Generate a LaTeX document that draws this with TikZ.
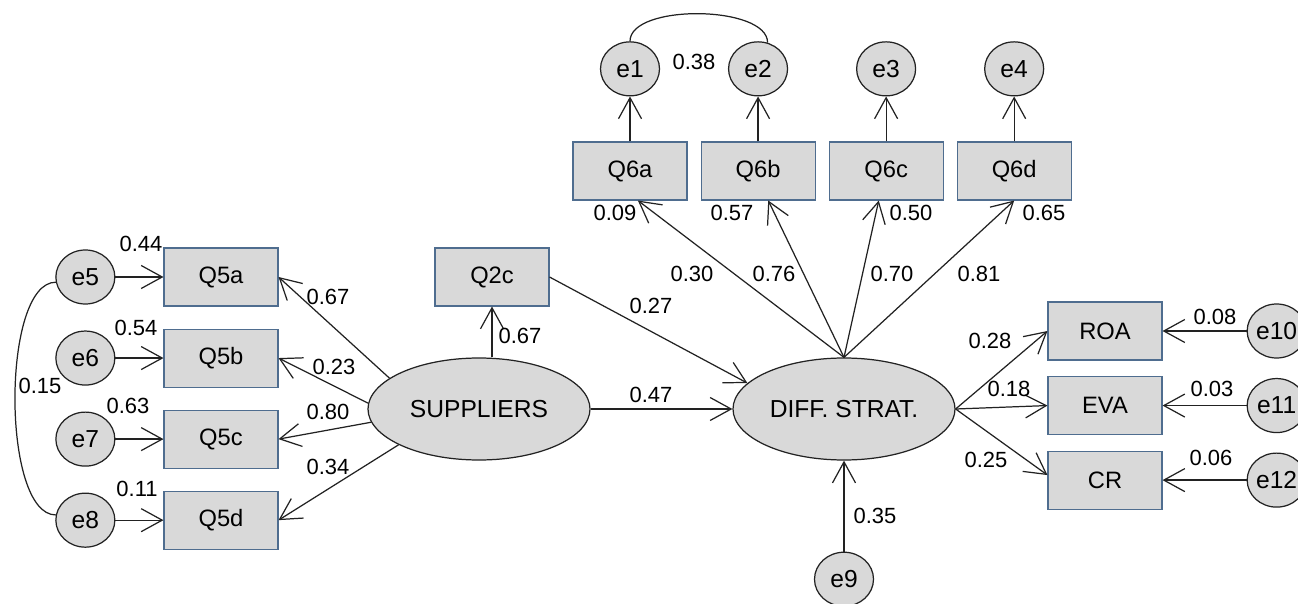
\documentclass[tikz,border=0pt]{standalone}
\usepackage{fontspec}
\setmainfont{Liberation Sans}
\usetikzlibrary{arrows.meta,positioning,shapes.geometric}
\definecolor{ink}{HTML}{222222}
\definecolor{boxedge}{HTML}{4F6D8F}
\definecolor{shade}{HTML}{D9D9D9}
\tikzset{
  obsbox/.style={draw=boxedge,fill=shade,minimum width=2.28cm,minimum height=1.16cm,
    inner sep=2pt,line width=0.6pt,font=\fontsize{13.5}{16}\selectfont},
  latent/.style={ellipse,draw=ink,fill=shade,minimum width=4.44cm,minimum height=2.04cm,
    inner sep=0pt,line width=0.7pt,font=\fontsize{14}{16}\selectfont},
  errnode/.style={ellipse,draw=ink,fill=shade,minimum width=1.18cm,minimum height=1.08cm,
    inner sep=0pt,line width=0.7pt,font=\fontsize{14}{16}\selectfont},
  patharrow/.style={-{Straight Barb[length=4.2mm,width=4.6mm]},line width=0.7pt,draw=ink},
  covline/.style={line width=0.7pt,draw=ink},
  coef/.style={font=\fontsize{12.5}{14}\selectfont,inner sep=1pt}
}

\begin{document}
\begin{tikzpicture}[node distance=0.44cm]
\useasboundingbox (0,0) rectangle (25.96,12.06);
\fill[white] (0,0) rectangle (25.96,12.06);
% latent variables
\node[latent] (sup) at (9.58,3.88) {SUPPLIERS};
\node[latent] (diff) at (16.88,3.88) {DIFF. STRAT.};
\node[obsbox] (q2c) at (9.84,6.52) {Q2c};
% supplier indicators and their errors
\node[obsbox] (q5a) at (4.42,6.52) {Q5a};
\node[obsbox,below=of q5a] (q5b) {Q5b};
\node[obsbox,below=of q5b] (q5c) {Q5c};
\node[obsbox,below=of q5c] (q5d) {Q5d};
\node[errnode,left=0.96cm of q5a] (e5) {e5};
\node[errnode,left=0.96cm of q5b] (e6) {e6};
\node[errnode,left=0.96cm of q5c] (e7) {e7};
\node[errnode,left=0.96cm of q5d] (e8) {e8};
% strategy indicators
\node[obsbox] (q6a) at (12.60,8.64) {Q6a};
\node[obsbox,right=0.26cm of q6a] (q6b) {Q6b};
\node[obsbox,right=0.26cm of q6b] (q6c) {Q6c};
\node[obsbox,right=0.26cm of q6c] (q6d) {Q6d};
\node[errnode,above=0.9cm of q6a] (e1) {e1};
\node[errnode,above=0.9cm of q6b] (e2) {e2};
\node[errnode,above=0.9cm of q6c] (e3) {e3};
\node[errnode,above=0.9cm of q6d] (e4) {e4};
% performance outcomes
\node[obsbox] (roa) at (22.10,5.44) {ROA};
\node[obsbox,below=0.31cm of roa] (eva) {EVA};
\node[obsbox,below=0.31cm of eva] (cr) {CR};
\node[errnode,right=1.68cm of roa] (e10) {e10};
\node[errnode,right=1.68cm of eva] (e11) {e11};
\node[errnode,right=1.68cm of cr] (e12) {e12};
\node[errnode,below=1.82cm of diff] (e9) {e9};

% paths
\draw[patharrow] (sup.161) -- (q5a.east);
\draw[patharrow] (sup.177) -- (q5b.east);
\draw[patharrow] (sup.-173) -- (q5c.east);
\draw[patharrow] (sup.-156) -- (q5d.east);
\draw[patharrow] (q2c.south |- sup.north) -- (q2c.south);
\draw[patharrow] (q2c.east) -- (diff.165);
\draw[patharrow] (sup.east) -- (diff.west);
\draw[patharrow] (diff.north) -- (q6a.-75);
\draw[patharrow] (diff.north) -- (q6b.-71);
\draw[patharrow] (diff.north) -- (q6c.-104);
\draw[patharrow] (diff.north) -- (q6d.south);
\draw[patharrow] (diff.east) -- (roa.west);
\draw[patharrow] (diff.east) -- (eva.west);
\draw[patharrow] (diff.east) -- (cr.175);
\draw[patharrow] (e9.north) -- (diff.south);
\foreach \ee/\qq in {e5/q5a,e6/q5b,e7/q5c,e8/q5d}
  \draw[patharrow] (\ee.east) -- (\qq.west);
\foreach \qq/\ee in {q6a/e1,q6b/e2,q6c/e3,q6d/e4}
  \draw[patharrow] (\qq.north) -- (\ee.south);
\foreach \ee/\qq in {e10/roa,e11/eva,e12/cr}
  \draw[patharrow] (\ee.west) -- (\qq.east);
% covariances
\draw[covline] (e5.190) to[out=180,in=180,looseness=0.6] (e8.170);
\draw[covline] (e1.north) to[out=90,in=90,looseness=0.7] (e2.70);

% coefficients
\node[coef] (c44) at (2.82,7.18) {0.44};
\node[coef] (c54) at (2.72,5.50) {0.54};
\node[coef] (c63) at (2.56,3.94) {0.63};
\node[coef] (c11) at (2.74,2.28) {0.11};
\node[coef] (c15) at (0.80,4.34) {0.15};
\node[coef] (cq5a) at (6.56,6.12) {0.67};
\node[coef] (cq5b) at (6.68,4.72) {0.23};
\node[coef] (cq5c) at (6.56,3.82) {0.80};
\node[coef] (cq5d) at (6.56,2.72) {0.34};
\node[coef] (cq2c) at (10.40,5.34) {0.67};
\node[coef] (c27) at (13.02,5.94) {0.27};
\node[coef] (c47) at (13.02,4.16) {0.47};
\node[coef] (c30) at (13.84,6.58) {0.30};
\node[coef] (c76) at (15.48,6.58) {0.76};
\node[coef] (c70) at (17.84,6.58) {0.70};
\node[coef] (c81) at (19.58,6.58) {0.81};
\node[coef] (c09) at (12.30,7.80) {0.09};
\node[coef] (c57) at (14.64,7.80) {0.57};
\node[coef] (c50) at (18.22,7.80) {0.50};
\node[coef] (c65) at (20.88,7.80) {0.65};
\node[coef] (c38) at (13.88,10.82) {0.38};
\node[coef] (c28) at (19.80,5.24) {0.28};
\node[coef] (c18) at (20.18,4.28) {0.18};
\node[coef] (c25) at (19.72,2.86) {0.25};
\node[coef] (c08) at (24.30,5.72) {0.08};
\node[coef] (c03) at (24.24,4.28) {0.03};
\node[coef] (c06) at (24.22,2.90) {0.06};
\node[coef] (c35) at (17.50,1.74) {0.35};
\end{tikzpicture}
\end{document}
